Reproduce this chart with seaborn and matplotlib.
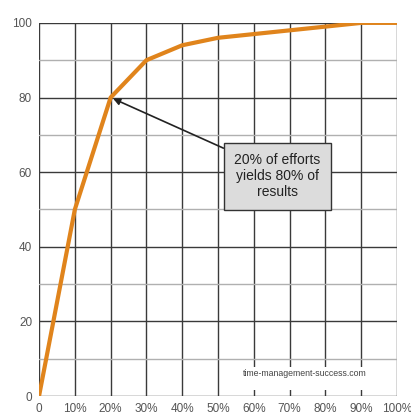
import seaborn as sns
import pandas as pd
import matplotlib.pyplot as plt
from matplotlib.patches import Rectangle

sns.set_style("white")
plt.rcParams['font.family'] = ['Liberation Sans', 'DejaVu Sans']

effort = [0, 10, 20, 30, 40, 50, 60, 70, 80, 90, 100]
results = [0, 50, 80, 90, 94, 96, 97, 98, 99, 100, 100]
x_labels = ["0", "10%", "20%", "30%", "40%", "50%", "60%", "70%", "80%", "90%", "100%"]
y_ticks = [0, 20, 40, 60, 80, 100]

data = pd.DataFrame({"effort": effort, "results": results})

fig = plt.figure(figsize=(4.11, 4.16), dpi=100)
ax = fig.add_axes([0.095, 0.048, 0.871, 0.897])

# grid
for x in effort:
    ax.axvline(x, color="#3a3a3a", lw=1.0, zorder=1)
for y in range(0, 101, 10):
    ax.axhline(y, color="#3a3a3a" if y % 20 == 0 else "#b0b0b0", lw=1.0, zorder=1)

sns.lineplot(data=data, x="effort", y="results", color="#e0841c", lw=3, ax=ax, zorder=3)

ax.set_xlim(0, 100)
ax.set_ylim(0, 100)
ax.set_xticks(effort)
ax.set_xticklabels(x_labels)
ax.set_yticks(y_ticks)
ax.set_xlabel("")
ax.set_ylabel("")
ax.tick_params(axis="both", labelsize=8.5, colors="#555555", length=4, width=1, pad=1)
ax.tick_params(axis="both", color="#3a3a3a")
for s in ax.spines.values():
    s.set_visible(False)

ax.annotate("20% of efforts\nyields 80% of\nresults",
            xy=(20, 80), xytext=(66.6, 58.9),
            ha="center", va="center", fontsize=10, color="#222222",
            bbox=dict(boxstyle="square,pad=0.75", fc="#dcdcdc", ec="#333333", lw=1),
            arrowprops=dict(arrowstyle="-|>", color="#222222", lw=1.2,
                            relpos=(0, 1), shrinkA=0, shrinkB=2),
            zorder=5)

# white patch behind the site name
ax.add_patch(Rectangle((52.5, 1.7), 47.2, 6.0, fc="white", ec="none", zorder=2))
ax.text(74.3, 6.0, "time-management-success.com", fontsize=6.3, color="#444444",
        ha="center", va="center", zorder=4)

fig.savefig("out.png", dpi=100)
